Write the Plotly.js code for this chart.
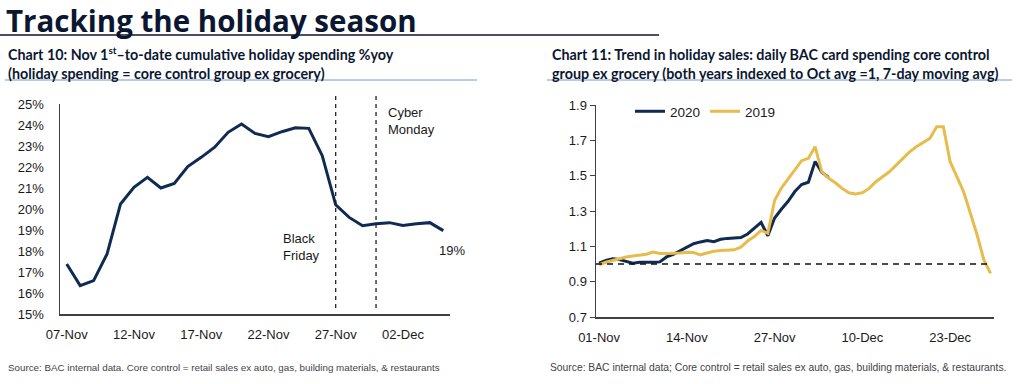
<!DOCTYPE html>
<html>
<head>
<meta charset="utf-8">
<script src="https://cdn.plot.ly/plotly-3.0.1.min.js"></script>
<style>
html,body{margin:0;padding:0;background:#fff;}
#chart{width:1024px;height:384px;}
</style>
</head>
<body>
<div id="chart"></div>
<script>
// ---------- Chart 10 data: cumulative holiday spending %yoy (07-Nov .. 05-Dec) ----------
var c10Start = '2020-11-07';
var c10Values = [17.38, 16.35, 16.59, 17.86, 20.24, 21.03, 21.51, 21.0, 21.22, 22.02,
                 22.46, 22.94, 23.65, 24.05, 23.6, 23.44, 23.68, 23.87, 23.84, 22.54,
                 20.2, 19.6, 19.2, 19.3, 19.35, 19.22, 19.3, 19.35, 18.97];
var c10EventDates = ['2020-11-27', '2020-11-30'];
var c10TickLabels = ['07-Nov', '12-Nov', '17-Nov', '22-Nov', '27-Nov', '02-Dec'];
var c10YTicks = [15, 16, 17, 18, 19, 20, 21, 22, 23, 24, 25];

// ---------- Chart 11 data: daily card spending indexed to Oct avg = 1 ----------
var c11Start = '2020-11-01';
var s2020 = [1.005, 1.02, 1.03, 1.025, 1.015, 1.005, 1.01, 1.008, 1.01, 1.012,
             1.04, 1.055, 1.075, 1.095, 1.115, 1.125, 1.133, 1.126, 1.14, 1.145,
             1.146, 1.15, 1.17, 1.2, 1.235, 1.16, 1.26, 1.31, 1.355, 1.41,
             1.45, 1.463, 1.58, 1.52, 1.49];
var s2019 = [0.995, 1.01, 1.02, 1.03, 1.04, 1.045, 1.05, 1.055, 1.068, 1.06,
             1.06, 1.06, 1.062, 1.066, 1.065, 1.052, 1.062, 1.072, 1.077, 1.08,
             1.08, 1.095, 1.13, 1.155, 1.19, 1.174, 1.36, 1.43, 1.48, 1.535,
             1.585, 1.598, 1.664, 1.522, 1.485, 1.46, 1.428, 1.403, 1.396, 1.403,
             1.428, 1.466, 1.494, 1.522, 1.56, 1.598, 1.635, 1.664, 1.686, 1.711,
             1.777, 1.777, 1.579, 1.494, 1.409, 1.287, 1.164, 1.023, 0.947];
var baseline = 1;
var c11TickLabels = ['01-Nov', '14-Nov', '27-Nov', '10-Dec', '23-Dec'];
var c11YTicks = [0.7, 0.9, 1.1, 1.3, 1.5, 1.7, 1.9];

function dates(start, n) {
  var out = [];
  var d0 = new Date(start + 'T00:00:00Z');
  for (var i = 0; i < n; i++) {
    var d = new Date(d0.getTime() + i * 86400000);
    out.push(d.toISOString().slice(0, 10));
  }
  return out;
}
var c10Dates = dates(c10Start, c10Values.length);
var c11Dates = dates(c11Start, s2019.length);

var NAVY = '#0f2b52';
var GOLD = '#e6bd4c';
var FONT = 'Liberation Sans, Arial, sans-serif';
var W = 1024, H = 384;
function px(x) { return x / W; }
function py(y) { return 1 - y / H; }

var traces = [
  {x: c10Dates, y: c10Values, xaxis: 'x', yaxis: 'y', mode: 'lines',
   line: {color: NAVY, width: 3}, showlegend: false, hoverinfo: 'skip'},
  {x: c11Dates.slice(0, s2020.length), y: s2020, xaxis: 'x2', yaxis: 'y2', mode: 'lines', name: '2020',
   line: {color: NAVY, width: 3}},
  {x: c11Dates, y: s2019, xaxis: 'x2', yaxis: 'y2', mode: 'lines', name: '2019',
   line: {color: GOLD, width: 3}}
];

var tickFont = {family: FONT, size: 13, color: '#1a1a1a'};

var layout = {
  width: W, height: H,
  margin: {l: 0, r: 0, t: 0, b: 0},
  paper_bgcolor: '#fff', plot_bgcolor: '#fff',
  showlegend: true,
  legend: {orientation: 'h', x: px(630), y: py(96), xanchor: 'left', yanchor: 'top',
           font: {family: FONT, size: 13.5, color: '#1a1a1a'}, bgcolor: 'rgba(0,0,0,0)',
           itemwidth: 30, tracegroupgap: 0},
  xaxis: {domain: [px(60), px(450)], anchor: 'y', type: 'date',
          range: ['2020-11-06 12:00', '2020-12-05 12:00'],
          tickvals: c10Dates.filter(function (d, i) { return i % 5 === 0; }).slice(0, c10TickLabels.length),
          ticktext: c10TickLabels, tickfont: tickFont,
          showgrid: false, zeroline: false, showline: true, linecolor: '#404040', linewidth: 1.5,
          ticks: 'outside', ticklen: 8, tickcolor: 'rgba(0,0,0,0)', fixedrange: true},
  yaxis: {domain: [py(314), py(104)], anchor: 'x', range: [15, 25],
          tickvals: c10YTicks, ticktext: c10YTicks.map(function (v) { return v + '%'; }),
          tickfont: tickFont, showgrid: false, zeroline: false, showline: true,
          linecolor: '#404040', linewidth: 1.5, ticks: 'outside', ticklen: 12,
          tickcolor: 'rgba(0,0,0,0)', fixedrange: true},
  xaxis2: {domain: [px(596), px(994)], anchor: 'y2', type: 'date',
           range: ['2020-10-31 13:00', '2020-12-29 12:00'],
           tickvals: [c11Dates[0], c11Dates[13], c11Dates[26], c11Dates[39], c11Dates[52]],
           ticktext: c11TickLabels, tickfont: tickFont,
           showgrid: false, zeroline: false, showline: true, linecolor: '#404040', linewidth: 1.5,
           ticks: 'outside', ticklen: 8, tickcolor: 'rgba(0,0,0,0)', fixedrange: true},
  yaxis2: {domain: [py(317), py(105)], anchor: 'x2', range: [0.7, 1.9],
           tickvals: c11YTicks, ticktext: c11YTicks.map(function (v) { return v.toFixed(1); }),
           tickfont: tickFont, showgrid: false, zeroline: false, showline: true,
           linecolor: '#404040', linewidth: 1.5, ticks: 'outside', ticklen: 5,
           tickcolor: '#404040', tickwidth: 1, fixedrange: true},
  shapes: [
    // title rule
    {type: 'line', xref: 'paper', yref: 'paper', x0: 0, x1: px(659), y0: py(35), y1: py(35),
     line: {color: '#0b1730', width: 1.5}},
    // chart titles underline
    {type: 'line', xref: 'paper', yref: 'paper', x0: px(5), x1: px(477), y0: py(80), y1: py(80),
     line: {color: '#7b98bf', width: 1}},
    {type: 'line', xref: 'paper', yref: 'paper', x0: px(547), x1: px(1012), y0: py(80), y1: py(80),
     line: {color: '#7b98bf', width: 1}},
    // event lines chart 10
    {type: 'line', xref: 'x', yref: 'paper', x0: c10EventDates[0], x1: c10EventDates[0],
     y0: py(308), y1: py(95), line: {color: '#222', width: 1.3, dash: '4px,4px'}},
    {type: 'line', xref: 'x', yref: 'paper', x0: c10EventDates[1], x1: c10EventDates[1],
     y0: py(308), y1: py(95), line: {color: '#222', width: 1.3, dash: '4px,4px'}},
    // baseline chart 11
    {type: 'line', xref: 'x2', yref: 'y2', x0: '2020-10-31 13:00', x1: c11Dates[c11Dates.length - 1],
     y0: baseline, y1: baseline, line: {color: '#111', width: 1.5, dash: '6px,5px'}}
  ],
  annotations: [
    {xref: 'paper', yref: 'paper', x: px(4), y: py(20), xanchor: 'left', yanchor: 'middle',
     text: '<b>Tracking the holiday season</b>', showarrow: false,
     font: {family: 'Open Sans, sans-serif', size: 29.5, color: '#0b1730'}},
    {xref: 'paper', yref: 'paper', x: px(6), y: py(63), xanchor: 'left', yanchor: 'middle', align: 'left',
     text: '<b>Chart 10: Nov 1<sup>st</sup>–to-date cumulative holiday spending %yoy<br>(holiday spending = core control group ex grocery)</b>',
     showarrow: false, font: {family: 'Lato, sans-serif', size: 14.3, color: '#0b1730'}},
    {xref: 'paper', yref: 'paper', x: px(550), y: py(64), xanchor: 'left', yanchor: 'middle', align: 'left',
     text: '<b>Chart 11: Trend in holiday sales: daily BAC card spending core control<br>group ex grocery (both years indexed to Oct avg =1, 7-day moving avg)</b>',
     showarrow: false, font: {family: 'Lato, sans-serif', size: 14.3, color: '#0b1730'}},
    {xref: 'paper', yref: 'paper', x: px(281), y: py(247), xanchor: 'left', yanchor: 'middle', align: 'left',
     text: 'Black<br>Friday', showarrow: false, font: {family: FONT, size: 13, color: '#1a1a1a'}},
    {xref: 'paper', yref: 'paper', x: px(386), y: py(121), xanchor: 'left', yanchor: 'middle', align: 'left',
     text: 'Cyber<br>Monday', showarrow: false, font: {family: FONT, size: 13, color: '#1a1a1a'}},
    {xref: 'paper', yref: 'paper', x: px(437), y: py(250), xanchor: 'left', yanchor: 'middle',
     text: '19%', showarrow: false, font: {family: FONT, size: 13, color: '#1a1a1a'}},
    {xref: 'paper', yref: 'paper', x: px(6), y: py(367), xanchor: 'left', yanchor: 'middle',
     text: 'Source: BAC internal data. Core control = retail sales ex auto, gas, building materials, & restaurants',
     showarrow: false, font: {family: FONT, size: 9.8, color: '#444'}},
    {xref: 'paper', yref: 'paper', x: px(548), y: py(367), xanchor: 'left', yanchor: 'middle',
     text: 'Source: BAC internal data; Core control = retail sales ex auto, gas, building materials, & restaurants.',
     showarrow: false, font: {family: FONT, size: 10.3, color: '#444'}}
  ]
};

Plotly.newPlot('chart', traces, layout, {displayModeBar: false, staticPlot: true});
</script>
</body>
</html>
